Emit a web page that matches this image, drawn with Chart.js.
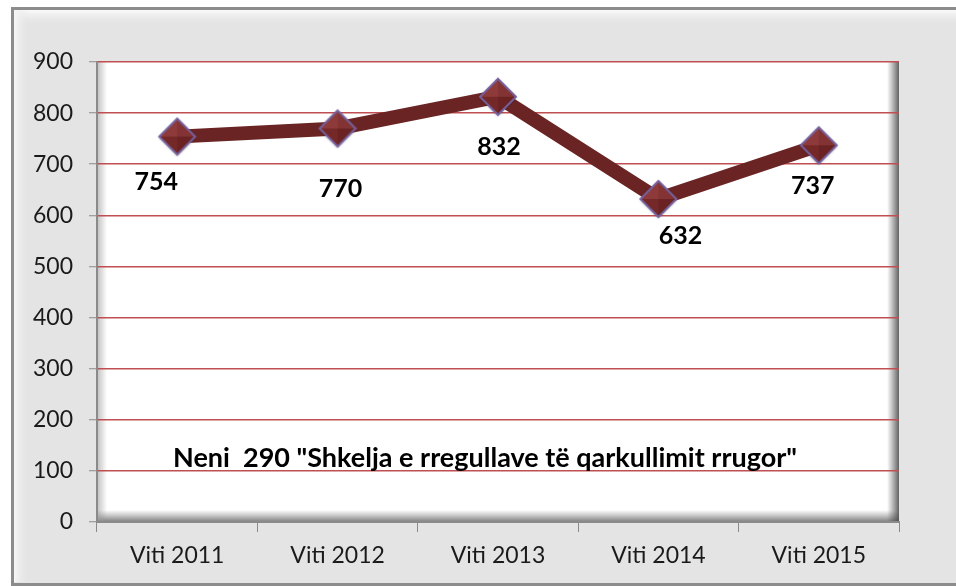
<!DOCTYPE html>
<html>
<head>
<meta charset="utf-8">
<script src="https://cdn.jsdelivr.net/npm/chart.js@4"></script>
<style>
  html, body { margin: 0; padding: 0; background: #fff; }
  #wrap { width: 956px; height: 586px; }
</style>
</head>
<body>
<div id="wrap"><canvas id="chart" width="956" height="586"></canvas></div>
<script>
const years = ['Viti 2011', 'Viti 2012', 'Viti 2013', 'Viti 2014', 'Viti 2015'];
const cases = [754, 770, 832, 632, 737];
const yTicks = [0, 100, 200, 300, 400, 500, 600, 700, 800, 900];
const caption = 'Neni  290 "Shkelja e rregullave të qarkullimit rrugor"';

// where each value label sits relative to its marker (dx, dy)
const labelNudge = [[-21, 45], [3, 60], [1, 50], [22, 37], [-6, 41]];

// shaded diamond used as the point marker
function makeDiamond(r) {
  const size = r * 2 + 6;
  const c = document.createElement('canvas');
  c.width = size; c.height = size;
  const g = c.getContext('2d');
  const m = size / 2;
  const top = [m, m - r], right = [m + r, m], bottom = [m, m + r], left = [m - r, m];
  const facet = (a, b, col) => {
    g.beginPath();
    g.moveTo(m, m); g.lineTo(a[0], a[1]); g.lineTo(b[0], b[1]); g.closePath();
    g.fillStyle = col; g.fill();
  };
  g.save();
  g.shadowColor = 'rgba(0,0,0,0.35)';
  g.shadowBlur = 3;
  g.shadowOffsetY = 1;
  g.beginPath();
  g.moveTo(...top); g.lineTo(...right); g.lineTo(...bottom); g.lineTo(...left); g.closePath();
  g.fillStyle = '#7a2b2b'; g.fill();
  g.restore();
  facet(left, top, '#8e3a3a');
  facet(top, right, '#833333');
  facet(right, bottom, '#6a2222');
  facet(bottom, left, '#742828');
  g.beginPath();
  g.moveTo(...top); g.lineTo(...right); g.lineTo(...bottom); g.lineTo(...left); g.closePath();
  g.strokeStyle = '#75619e'; g.lineWidth = 2; g.stroke();
  return c;
}
const diamond = makeDiamond(18);

// gray frame and bevelled plot area
const backdrop = {
  id: 'backdrop',
  beforeDraw(chart) {
    const { ctx, chartArea: a } = chart;
    ctx.save();
    ctx.fillStyle = '#fff';
    ctx.fillRect(0, 0, chart.width, chart.height);
    // outer frame
    ctx.fillStyle = '#e4e4e4';
    ctx.fillRect(12, 8, 960, 576);
    let gr = ctx.createLinearGradient(0, 10, 0, 26);
    gr.addColorStop(0, '#fbfbfb'); gr.addColorStop(1, 'rgba(228,228,228,0)');
    ctx.fillStyle = gr; ctx.fillRect(14, 10, 960, 16);
    gr = ctx.createLinearGradient(14, 0, 30, 0);
    gr.addColorStop(0, '#f6f6f6'); gr.addColorStop(1, 'rgba(228,228,228,0)');
    ctx.fillStyle = gr; ctx.fillRect(14, 10, 16, 572);
    ctx.strokeStyle = '#8c8c8c'; ctx.lineWidth = 3;
    ctx.strokeRect(12.5, 8.5, 960, 576);
    // plot area with inner shadow on the right and bottom
    ctx.fillStyle = '#fff';
    ctx.fillRect(a.left, a.top, a.width, a.height);
    gr = ctx.createLinearGradient(a.right - 12, 0, a.right, 0);
    gr.addColorStop(0, 'rgba(90,90,90,0)'); gr.addColorStop(1, 'rgba(70,70,70,0.85)');
    ctx.fillStyle = gr; ctx.fillRect(a.right - 12, a.top, 12, a.height);
    gr = ctx.createLinearGradient(0, a.bottom - 12, 0, a.bottom);
    gr.addColorStop(0, 'rgba(90,90,90,0)'); gr.addColorStop(1, 'rgba(70,70,70,0.7)');
    ctx.fillStyle = gr; ctx.fillRect(a.left, a.bottom - 12, a.width, 12);
    gr = ctx.createLinearGradient(a.left, 0, a.left + 10, 0);
    gr.addColorStop(0, 'rgba(150,150,150,0.6)'); gr.addColorStop(1, 'rgba(150,150,150,0)');
    ctx.fillStyle = gr; ctx.fillRect(a.left, a.top, 10, a.height);
    ctx.restore();
  },
  afterDatasetsDraw(chart) {
    const { ctx } = chart;
    ctx.save();
    ctx.fillStyle = '#000';
    ctx.font = 'bold 27px Lato';
    ctx.textAlign = 'center';
    ctx.textBaseline = 'middle';
    ctx.fillText(caption, 485, 458);
    const meta = chart.getDatasetMeta(0);
    ctx.font = 'bold 25px Lato';
    meta.data.forEach((pt, i) => {
      const [dx, dy] = labelNudge[i];
      ctx.fillText(String(cases[i]), pt.x + dx, pt.y + dy);
    });
    ctx.restore();
  }
};

new Chart(document.getElementById('chart'), {
  type: 'line',
  data: {
    labels: years,
    datasets: [{
      data: cases,
      borderColor: '#6b2424',
      borderWidth: 14,
      tension: 0,
      pointStyle: diamond,
      pointRadius: 18,
      pointHoverRadius: 18
    }]
  },
  options: {
    responsive: false,
    animation: false,
    events: [],
    layout: { padding: { left: 0, top: 62, right: 57, bottom: 0 } },
    plugins: { legend: { display: false }, tooltip: { enabled: false } },
    scales: {
      x: {
        offset: true,
        afterFit: (s) => { s.height = 64; },
        grid: {
          offset: true,
          drawOnChartArea: false,
          tickLength: 10,
          tickColor: '#8a8a8a',
          tickWidth: 1
        },
        border: { color: '#8a8a8a', width: 2 },
        ticks: { color: '#1a1a1a', padding: 10, font: { family: 'Lato', size: 23 } }
      },
      y: {
        min: 0,
        max: 900,
        afterFit: (s) => { s.width = 97; },
        afterBuildTicks: (s) => { s.ticks = yTicks.map(v => ({ value: v })); },
        grid: {
          color: '#bf4f52',
          lineWidth: 1.5,
          tickLength: 8,
          tickColor: '#8a8a8a',
          tickWidth: 1
        },
        border: { color: '#8a8a8a', width: 2 },
        ticks: { color: '#1a1a1a', padding: 16, font: { family: 'Lato', size: 23 } }
      }
    }
  },
  plugins: [backdrop]
});
</script>
</body>
</html>
